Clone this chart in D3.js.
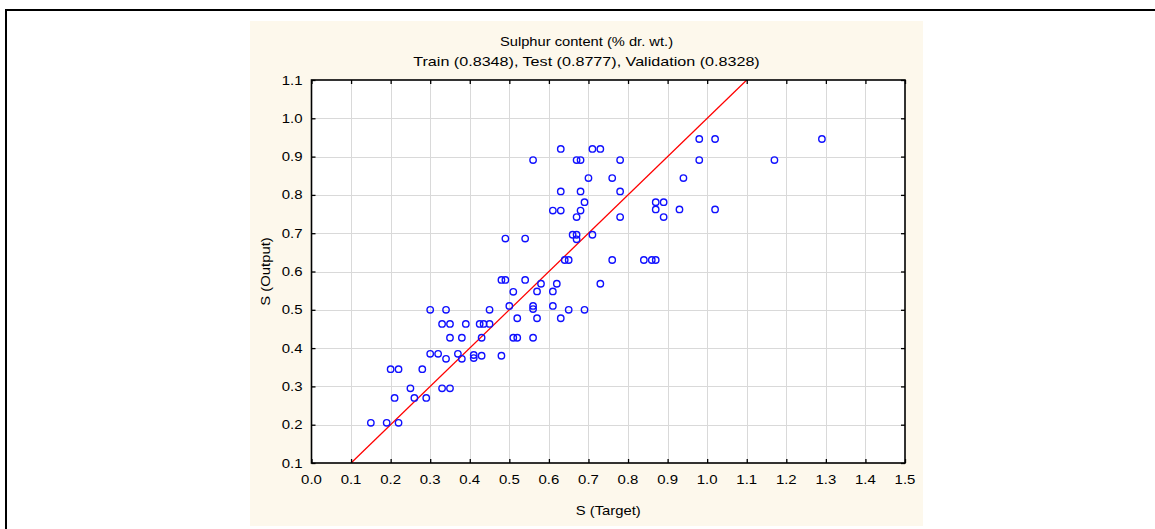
<!DOCTYPE html>
<html>
<head>
<meta charset="utf-8">
<script src="https://cdn.jsdelivr.net/npm/d3@7"></script>
<style>
  html, body { margin: 0; padding: 0; background: #ffffff; }
  svg { display: block; font-family: "Liberation Sans", Arial, sans-serif; }
</style>
</head>
<body>
<svg id="chart" width="1155" height="529"></svg>
<script>
// Observed vs predicted sulphur content
const targetValues = [
  0.15, 0.19, 0.22, 0.21, 0.26, 0.29, 0.25, 0.33, 0.35, 0.20, 0.22, 0.28,
  0.30, 0.32, 0.34, 0.37, 0.38, 0.41, 0.41, 0.43, 0.48, 0.35, 0.38, 0.43,
  0.51, 0.52, 0.56, 0.33, 0.35, 0.39, 0.425, 0.435, 0.45, 0.52, 0.57, 0.63,
  0.30, 0.34, 0.45, 0.50, 0.56, 0.56, 0.61, 0.65, 0.69, 0.51, 0.57, 0.61,
  0.58, 0.62, 0.73, 0.48, 0.49, 0.54, 0.64, 0.65, 0.76, 0.84, 0.86, 0.87,
  0.49, 0.54, 0.66, 0.67, 0.67, 0.71, 0.67, 0.78, 0.89, 0.61, 0.63, 0.68,
  0.87, 0.93, 1.02, 0.69, 0.87, 0.89, 0.63, 0.68, 0.78, 0.70, 0.76, 0.94,
  0.56, 0.67, 0.68, 0.78, 0.98, 1.17, 0.63, 0.71, 0.73, 0.98, 1.02, 1.29
];
const outputValues = [
  0.205, 0.205, 0.205, 0.27, 0.27, 0.27, 0.295, 0.295, 0.295, 0.345, 0.345, 0.345,
  0.385, 0.385, 0.372, 0.385, 0.372, 0.382, 0.374, 0.38, 0.38, 0.427, 0.427, 0.427,
  0.427, 0.427, 0.427, 0.463, 0.463, 0.463, 0.463, 0.463, 0.463, 0.478, 0.478, 0.478,
  0.50, 0.50, 0.50, 0.51, 0.51, 0.502, 0.51, 0.50, 0.50, 0.547, 0.548, 0.548,
  0.568, 0.568, 0.568, 0.578, 0.578, 0.578, 0.63, 0.63, 0.63, 0.63, 0.63, 0.63,
  0.686, 0.686, 0.696, 0.696, 0.684, 0.696, 0.742, 0.742, 0.742, 0.759, 0.759, 0.759,
  0.762, 0.762, 0.762, 0.781, 0.781, 0.781, 0.809, 0.809, 0.809, 0.844, 0.844, 0.844,
  0.891, 0.891, 0.891, 0.891, 0.891, 0.891, 0.92, 0.92, 0.92, 0.946, 0.946, 0.946
];
const xTicks = [0.0, 0.1, 0.2, 0.3, 0.4, 0.5, 0.6, 0.7, 0.8, 0.9, 1.0, 1.1, 1.2, 1.3, 1.4, 1.5];
const yTicks = [0.1, 0.2, 0.3, 0.4, 0.5, 0.6, 0.7, 0.8, 0.9, 1.0, 1.1];
const identityLine = [0.1, 1.1];
const titleLines = ["Sulphur content (% dr. wt.)", "Train (0.8348), Test (0.8777), Validation (0.8328)"];
const xTitle = "S (Target)";
const yTitle = "S (Output)";

const svg = d3.select("#chart");

// widen glyph runs slightly, the way a low-resolution renderer rounds advances
function widen(sel, factor) {
  sel.each(function () {
    const w = this.getComputedTextLength();
    d3.select(this).attr("textLength", w * factor).attr("lengthAdjust", "spacingAndGlyphs");
  });
}

// outer frame
svg.append("rect")
  .attr("x", 6).attr("y", 10).attr("width", 1160).attr("height", 530)
  .attr("fill", "#ffffff").attr("stroke", "#000000").attr("stroke-width", 2);

// graph panel
const panel = { left: 250, top: 21, right: 923, bottom: 526 };
svg.append("rect")
  .attr("x", panel.left).attr("y", panel.top)
  .attr("width", panel.right - panel.left).attr("height", panel.bottom - panel.top)
  .attr("fill", "#fdf8ec");

const plot = { left: 311.5, top: 80, right: 905, bottom: 463 };
const x = d3.scaleLinear().domain([0, 1.5]).range([plot.left, plot.right]);
const y = d3.scaleLinear().domain([0.1, 1.1]).range([plot.bottom, plot.top]);

svg.append("rect")
  .attr("x", plot.left).attr("y", plot.top)
  .attr("width", plot.right - plot.left).attr("height", plot.bottom - plot.top)
  .attr("fill", "#ffffff");

// grid
const grid = svg.append("g").attr("stroke", "#d9d9d9").attr("stroke-width", 1);
grid.selectAll("line.vx").data(xTicks.slice(1, -1)).join("line")
  .attr("x1", d => Math.round(x(d)) + 0.5).attr("x2", d => Math.round(x(d)) + 0.5)
  .attr("y1", plot.top).attr("y2", plot.bottom);
grid.selectAll("line.hy").data(yTicks.slice(1, -1)).join("line")
  .attr("y1", d => Math.round(y(d)) + 0.5).attr("y2", d => Math.round(y(d)) + 0.5)
  .attr("x1", plot.left).attr("x2", plot.right);

// identity line
svg.append("clipPath").attr("id", "plotclip")
  .append("rect").attr("x", plot.left).attr("y", plot.top)
  .attr("width", plot.right - plot.left).attr("height", plot.bottom - plot.top);
svg.append("line")
  .attr("clip-path", "url(#plotclip)")
  .attr("x1", x(identityLine[0])).attr("y1", y(identityLine[0]))
  .attr("x2", x(identityLine[1])).attr("y2", y(identityLine[1]))
  .attr("stroke", "#ff0000").attr("stroke-width", 1.3);

// points
const points = targetValues.map((t, i) => [t, outputValues[i]]);
svg.append("g").selectAll("circle").data(points).join("circle")
  .attr("cx", d => x(d[0])).attr("cy", d => y(d[1])).attr("r", 3.2)
  .attr("fill", "none").attr("stroke", "#1010ff").attr("stroke-width", 1.4);

// axes with inward ticks
const axisBottom = svg.append("g").attr("transform", `translate(0,${plot.bottom})`)
  .call(d3.axisTop(x).tickValues(xTicks).tickSize(4).tickFormat(""));
const axisTopG = svg.append("g").attr("transform", `translate(0,${plot.top})`)
  .call(d3.axisBottom(x).tickValues(xTicks).tickSize(4).tickFormat(""));
const axisLeftG = svg.append("g").attr("transform", `translate(${plot.left},0)`)
  .call(d3.axisRight(y).tickValues(yTicks).tickSize(4).tickFormat(""));
const axisRightG = svg.append("g").attr("transform", `translate(${plot.right},0)`)
  .call(d3.axisLeft(y).tickValues(yTicks).tickSize(4).tickFormat(""));
[axisBottom, axisTopG, axisLeftG, axisRightG].forEach(g => {
  g.select(".domain").remove();
  g.selectAll(".tick line").attr("stroke", "#000000").attr("stroke-width", 1.3);
});

// frame of the plot area
svg.append("rect")
  .attr("x", plot.left).attr("y", plot.top)
  .attr("width", plot.right - plot.left).attr("height", plot.bottom - plot.top)
  .attr("fill", "none").attr("stroke", "#000000").attr("stroke-width", 1.6);

// tick labels
const xLabels = svg.append("g").selectAll("text").data(xTicks).join("text")
  .attr("x", d => x(d)).attr("y", plot.bottom + 21)
  .attr("text-anchor", "middle").attr("font-size", 13).attr("fill", "#000")
  .text(d => d.toFixed(1));
const yLabels = svg.append("g").selectAll("text").data(yTicks).join("text")
  .attr("x", plot.left - 9).attr("y", d => y(d) + 4.5)
  .attr("text-anchor", "end").attr("font-size", 13).attr("fill", "#000")
  .text(d => d.toFixed(1));
widen(xLabels, 1.15);
widen(yLabels, 1.15);

// titles
const titles = svg.append("g").selectAll("text").data(titleLines).join("text")
  .attr("x", (panel.left + panel.right) / 2).attr("y", (d, i) => 45.5 + i * 20)
  .attr("text-anchor", "middle").attr("font-size", 13).attr("fill", "#000")
  .text(d => d);
widen(titles.filter((d, i) => i === 0), 1.13);
widen(titles.filter((d, i) => i === 1), 1.24);

const xt = svg.append("text")
  .attr("x", (plot.left + plot.right) / 2).attr("y", 514.5)
  .attr("text-anchor", "middle").attr("font-size", 13).attr("fill", "#000")
  .text(xTitle);
const yt = svg.append("text")
  .attr("transform", `translate(270,${(plot.top + plot.bottom) / 2}) rotate(-90)`)
  .attr("text-anchor", "middle").attr("font-size", 13).attr("fill", "#000")
  .text(yTitle);
widen(xt, 1.14);
widen(yt, 1.14);
</script>
</body>
</html>
